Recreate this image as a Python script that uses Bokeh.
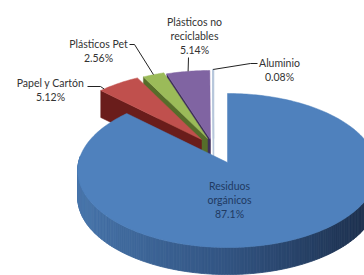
import math
from bokeh.plotting import figure
from bokeh.models import Range1d
from bokeh.core.properties import value
from bokeh.embed import file_html
from bokeh.resources import INLINE

# ---------------- data ----------------
categories = ["Residuos orgánicos", "Papel y Cartón", "Plásticos Pet",
              "Plásticos no reciclables", "Aluminio"]
percent = [87.1, 5.12, 2.56, 5.14, 0.08]
label_names = [["Residuos", "orgánicos"], ["Papel y Cartón"], ["Plásticos Pet"],
               ["Plásticos no", "reciclables"], ["Aluminio"]]
percent_text = ["87.1%", "5.12%", "2.56%", "5.14%", "0.08%"]

# ---------------- style / layout ----------------
top_colors = ["#4f81bd", "#c0504d", "#9bbb59", "#8064a2", "#ffffff"]
side_colors = ["#2e4c78", "#6a1d1b", "#566d2a", "#3e2f5a", "#ffffff"]
CX, CY = 227.0, 162.0      # pie centre (page px)
RX, RY = 149.0, 76.2       # radii
K = 0.104                  # perspective
T = 27.0                   # thickness
offsets = [(0, 0), (-26, -23), (-20, -24), (-17, -23), (-14, -24)]
label_pos = [(229, 185), (50, 82), (98, 43), (194, 21), (279, 62)]
line_gap = 14
leader_from = [None, [(87, 86), (100, 86)], [(129, 44), (134, 44)],
               [(188, 57)], [(257, 63), (250, 63)]]
anchor_frac = [None, 0.1, 0.5, 0.5, 0.5]
label_color = "#333333"
inner_label_color = "#1f3a62"
FONT = value("Lato")
FS = "10.5px"
W, H = 364, 275


def proj(theta, r, z, off):
    t = math.radians(theta)
    u, v = r * math.sin(t), r * math.cos(t)
    s = 1.0 / (1.0 + K * v)
    return CX + RX * u * s + off[0], CY - RY * v * s + off[1] + z


def arc(a0, a1, z, off):
    n = max(2, int(abs(a1 - a0) / 1.0) + 2)
    return [proj(a0 + (a1 - a0) * i / (n - 1), 1.0, z, off) for i in range(n)]


def lerp(c0, c1, f):
    return tuple(int(round(c0[i] + (c1[i] - c0[i]) * f)) for i in range(3))


def wall_color(theta):
    u = math.sin(math.radians(theta))
    left, mid, right = (72, 118, 172), (50, 84, 130), (26, 43, 70)
    c = lerp(left, mid, u + 1) if u < 0 else lerp(mid, right, u)
    return "#%02x%02x%02x" % c


total = sum(percent)
starts, ends = [], []
acc = 0.0
for v in percent:
    starts.append(360.0 * acc / total)
    acc += v
    ends.append(360.0 * acc / total)

p = figure(width=W, height=H, x_range=Range1d(0, W), y_range=Range1d(H, 0),
           x_axis_type=None, y_axis_type=None, toolbar_location=None,
           output_backend="svg", min_border=0)
p.grid.visible = False
p.outline_line_color = None
p.background_fill_color = "white"

# ---- small slices, back (right) to front (left) ----
for i in [4, 3, 2, 1]:
    off = offsets[i]
    a0, a1 = starts[i], ends[i]
    apex_t = proj(0, 0, 0, off)
    apex_b = proj(0, 0, T, off)
    o_t = proj(a0, 1, 0, off)
    o_b = proj(a0, 1, T, off)
    face = [apex_t, o_t, o_b, apex_b]
    top = [apex_t] + arc(a0, a1, 0, off)
    if i == 4:
        p.patch([q[0] for q in face], [q[1] for q in face], fill_color="white",
                line_color="#b7c7db", line_width=1.5)
        p.patch([q[0] for q in top], [q[1] for q in top], fill_color="white",
                line_color="#b7c7db", line_width=1.5)
    else:
        p.patch([q[0] for q in face], [q[1] for q in face], fill_color=side_colors[i],
                line_color=side_colors[i], line_width=0.5)
        p.patch([q[0] for q in top], [q[1] for q in top], fill_color=top_colors[i],
                line_color=top_colors[i], line_width=0.5)

# ---- big slice: front wall strips then top ----
off = offsets[0]
a0, a1 = starts[0], ends[0]
xs, ys, cols = [], [], []
strips = []
step = 1.0
a = a0
while a < a1:
    b = min(a + step, a1)
    mid = 0.5 * (a + b)
    if math.cos(math.radians(mid)) < 0.08:
        q0t, q1t = proj(a, 1, 0, off), proj(b, 1, 0, off)
        q0b, q1b = proj(a, 1, T, off), proj(b, 1, T, off)
        strips.append((math.cos(math.radians(mid)),
                       [q0t[0], q1t[0], q1b[0], q0b[0]],
                       [q0t[1], q1t[1], q1b[1], q0b[1]], wall_color(mid)))
    a = b
strips.sort(key=lambda s: -s[0])
for s in strips:
    xs.append(s[1]); ys.append(s[2]); cols.append(s[3])
p.patches(xs, ys, fill_color=cols, line_color=cols, line_width=0.8)

top = [proj(0, 0, 0, off)] + arc(a0, a1, 0, off)
p.patch([q[0] for q in top], [q[1] for q in top], fill_color=top_colors[0],
        line_color=top_colors[0], line_width=0.5)

# ---- leader lines ----
for i in range(1, 5):
    a0, a1 = starts[i], ends[i]
    anc = proj(a0 + (a1 - a0) * anchor_frac[i], 1, 0, offsets[i])
    pts = leader_from[i] + [anc]
    p.line([q[0] for q in pts], [q[1] for q in pts], line_color="#222222", line_width=1)

# ---- labels ----
for i in range(5):
    lines = label_names[i] + [percent_text[i]]
    lx, ly = label_pos[i]
    p.text([lx] * len(lines), [ly + line_gap * j for j in range(len(lines))], text=lines,
           text_align="center", text_baseline="middle", text_font=FONT,
           text_font_size=FS, text_color=inner_label_color if i == 0 else label_color)

open("out.html", "w").write(file_html(p, INLINE))
